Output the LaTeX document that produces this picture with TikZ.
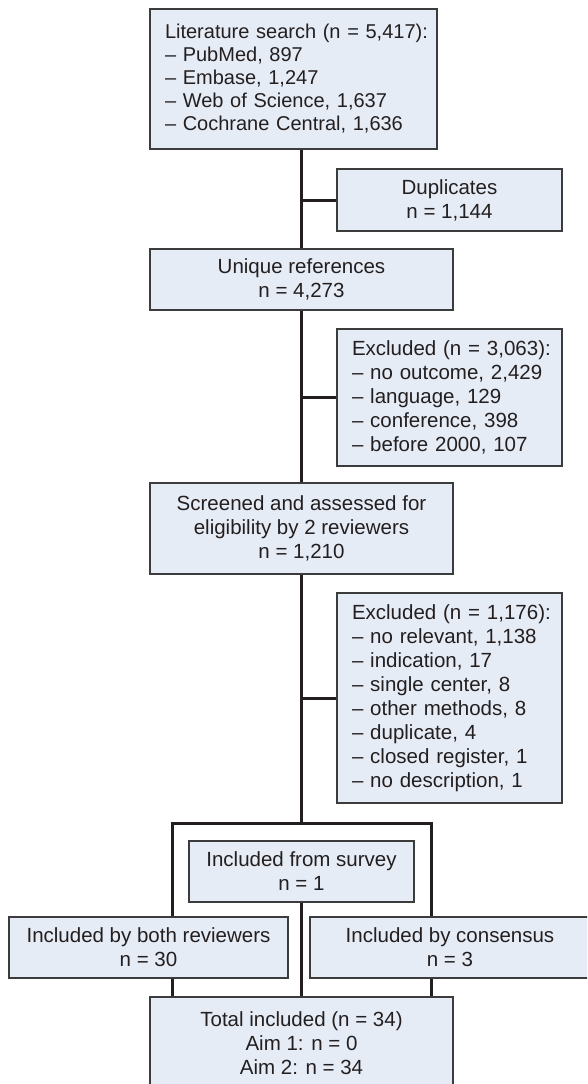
\documentclass[tikz,border=0pt]{standalone}
\usepackage{fontspec}
\setmainfont{Liberation Sans}
\usetikzlibrary{backgrounds}
\definecolor{boxfill}{HTML}{E6ECF6}
\definecolor{boxline}{HTML}{3C3C3C}
\definecolor{conn}{HTML}{231F20}
\begin{document}
\begin{tikzpicture}[x=1pt,y=-1pt,
  box/.style={draw=boxline, fill=boxfill, line width=1.1pt, inner ysep=0pt, text=conn, font=\fontsize{20.5}{24}\selectfont},
  cbox/.style={box, align=center, inner xsep=0pt},
  lbox/.style={box, align=left, inner xsep=15pt, text width=#1},
  link/.style={draw=conn, line width=3pt}]
\useasboundingbox (0,0) rectangle (587,1084);
\clip (0,0) rectangle (587,1084);
% boxes
\node[lbox=257pt, minimum height=140pt, font=\fontsize{20}{23}\selectfont] (lit) at (293.5,79)
  {\mbox{Literature search (n = 5,417):}\\– PubMed, 897\\– Embase, 1,247\\– Web of Science, 1,637\\\mbox{– Cochrane Central, 1,636}};
\node[cbox, minimum width=225pt, minimum height=62pt] (dup) at (449.5,200)
  {Duplicates\\n = 1,144};
\node[cbox, minimum width=303pt, minimum height=61pt] (uniq) at (301.5,279.5)
  {Unique references\\n = 4,273};
\node[lbox=195pt, minimum height=137pt] (ex1) at (449.5,397.5)
  {\mbox{Excluded (n = 3,063):}\\\mbox{– no outcome, 2,429}\\– language, 129\\– conference, 398\\\mbox{– before 2000, 107}};
\node[cbox, minimum width=303pt, minimum height=91pt] (scr) at (301.5,528.5)
  {Screened and assessed for\\eligibility by 2 reviewers\\n = 1,210};
\node[lbox=195pt, minimum height=210pt] (ex2) at (449.5,698)
  {\mbox{Excluded (n = 1,176):}\\\mbox{– no relevant, 1,138}\\– indication, 17\\– single center, 8\\\mbox{– other methods, 8}\\– duplicate, 4\\\mbox{– closed register, 1}\\\mbox{– no description, 1}};
\node[cbox, minimum width=225pt, minimum height=61pt] (survey) at (301.5,871.5)
  {Included from survey\\n = 1};
\node[cbox, minimum width=279pt, minimum height=61pt] (both) at (148.5,947.5)
  {Included by both reviewers\\n = 30};
\node[cbox, minimum width=280pt, minimum height=61pt] (cons) at (450,947.5)
  {Included by consensus\\n = 3};
\node[cbox, minimum width=303pt, minimum height=92pt] (total) at (301.5,1043)
  {Total included (n = 34)\\Aim 1: n = 0\\Aim 2: n = 34};
\coordinate (barL) at (172,823);
\coordinate (barR) at (431,823);
% connectors
\begin{scope}[on background layer]
\draw[link] (lit.south -| uniq.north) -- (uniq.north);
\draw[link] (dup.west) -- (dup.west -| uniq.north);
\draw[link] (uniq.south) -- (scr.north);
\draw[link] (ex1.west) -- (ex1.west -| uniq.south);
\draw[link] (scr.south) -- (scr.south |- barL);
\draw[link] (ex2.west) -- (ex2.west -| scr.south);
\draw[link] (barL |- total.north) -- (barL) -- (barR) -- (barR |- total.north);
\draw[link] (survey.south) -- (total.north);
\end{scope}
\end{tikzpicture}
\end{document}
